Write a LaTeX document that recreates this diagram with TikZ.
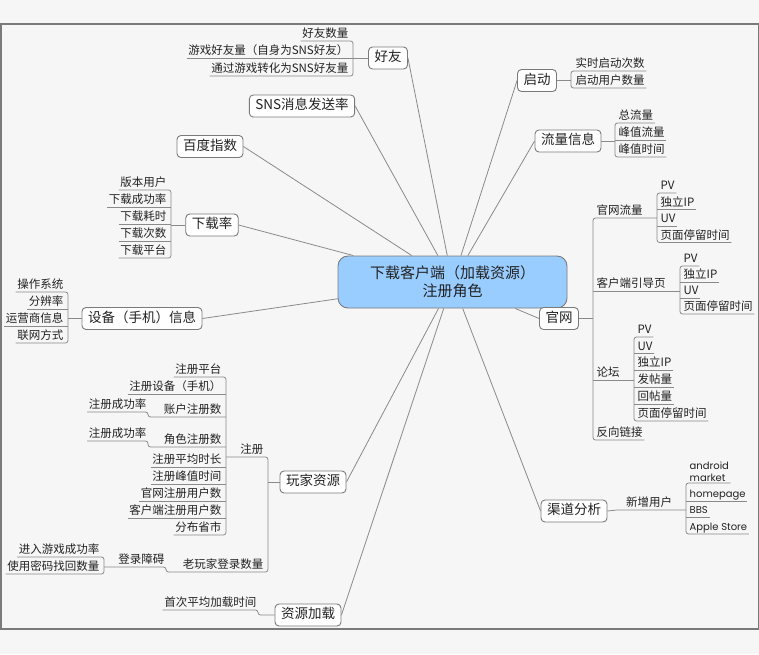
\documentclass[tikz,border=0pt]{standalone}
\usepackage{fontspec}
\setmainfont{Noto Sans CJK SC}
\newfontfamily\poppinsfont{Poppins}
\usetikzlibrary{calc}
\definecolor{bgc}{HTML}{F6F6F6}
\definecolor{lnc}{HTML}{8A8A8A}
\definecolor{frc}{HTML}{7A7A7A}
\definecolor{ctrfill}{HTML}{99CCFF}
\definecolor{txt}{HTML}{222222}
\tikzset{
  ln/.style={draw=lnc, line width=0.8pt},
  bk/.style={draw=lnc, line width=0.8pt, rounded corners=2.5pt},
  topic/.style={draw=frc, fill=white, rounded corners=4pt, line width=0.9pt,
     font=\fontsize{13.5}{16}\selectfont, text=txt, inner xsep=6pt, inner ysep=4.5pt,
     text height=10pt, text depth=3pt},
  leafL/.style={anchor=south east, inner xsep=1.5pt, inner ysep=1pt,
     font=\fontsize{11.5}{13}\selectfont, text=txt, text height=9pt, text depth=2pt},
  leafR/.style={leafL, anchor=south west},
  latinR/.style={leafR, font=\poppinsfont\fontsize{10}{12}\selectfont, text height=8pt},
  ctrbox/.style={draw=frc, fill=ctrfill, rounded corners=10pt, line width=0.9pt,
     minimum width=229pt, minimum height=52pt, align=center,
     font=\fontsize{15}{18}\selectfont, text=txt, inner sep=0pt}
}
\begin{document}
\begin{tikzpicture}[x=1pt,y=-1pt]
\useasboundingbox (0,0) rectangle (759,654);
\fill[bgc] (0,0) rectangle (759,654);
\draw[frc, line width=1.5pt] (0.75,24) rectangle (758.25,629);

\node[ctrbox] (ctr) at (452.5,282) {下载客户端（加载资源）\\注册角色};

% main topics
\node[topic] (hy) at (388,58) {好友};
\node[topic] (sns) at (302,106) {SNS消息发送率};
\node[topic] (bd) at (210,146.5) {百度指数};
\node[topic] (xzl) at (212,225) {下载率};
\node[topic] (sb) at (142,318.5) {设备（手机）信息};
\node[topic] (wjzy) at (313,482) {玩家资源};
\node[topic] (zyjz) at (308,615) {资源加载};
\node[topic] (qd) at (537,80.5) {启动};
\node[topic] (llxx) at (568,141) {流量信息};
\node[topic] (gw) at (559,318.5) {官网};
\node[topic] (qdfx) at (574,511) {渠道分析};

\foreach \t/\a in {hy/east, sns/east, bd/east, xzl/east, sb/east, wjzy/east, zyjz/east, qd/west, llxx/west, gw/west, qdfx/west}
  \draw[ln] (\t.\a) -- (ctr);

% 好友
\coordinate (bkhy) at (353,0);
\node[leafL] (hy1) at (350,41) {好友数量};
\node[leafL] (hy2) at (350,58) {游戏好友量（自身为SNS好友）};
\node[leafL] (hy3) at (350,76) {通过游戏转化为SNS好友量};
\draw[bk] (hy1.south west) -- (hy1.south west -| bkhy) -- (hy3.south west -| bkhy) -- (hy3.south west);
\draw[ln] (hy2.south west) -- (hy.west);

% 下载率
\coordinate (bkxz) at (171,0);
\node[leafL] (xz1) at (168,190) {版本用户};
\node[leafL] (xz2) at (168,207) {下载成功率};
\node[leafL] (xz3) at (168,224) {下载耗时};
\node[leafL] (xz4) at (168,241) {下载次数};
\node[leafL] (xz5) at (168,258) {下载平台};
\draw[bk] (xz1.south west) -- (xz1.south west -| bkxz) -- (xz5.south west -| bkxz) -- (xz5.south west);
\foreach \n in {xz2,xz3,xz4} \draw[ln] (\n.south west) -- (\n.south west -| bkxz);
\draw[ln] (xzl.west) -- (xzl.west -| bkxz);

% 设备
\coordinate (bksb) at (68,0);
\node[leafL] (sb1) at (65,292) {操作系统};
\node[leafL] (sb2) at (65,309) {分辨率};
\node[leafL] (sb3) at (65,326) {运营商信息};
\node[leafL] (sb4) at (65,343) {联网方式};
\draw[bk] (sb1.south west) -- (sb1.south west -| bksb) -- (sb4.south west -| bksb) -- (sb4.south west);
\foreach \n in {sb2,sb3} \draw[ln] (\n.south west) -- (\n.south west -| bksb);
\draw[ln] (sb.west) -- (sb.west -| bksb);

% 启动
\coordinate (bkqd) at (571,0);
\node[leafR] (qd1) at (574,71) {实时启动次数};
\node[leafR] (qd2) at (574,88) {启动用户数量};
\draw[bk] (qd1.south east) -- (qd1.south east -| bkqd) -- (qd2.south east -| bkqd) -- (qd2.south east);
\draw[ln] (qd.east) -- (qd.east -| bkqd);

% 流量信息
\coordinate (bkll) at (615,0);
\node[leafR] (ll1) at (617,123) {总流量};
\node[leafR] (ll2) at (617,140) {峰值流量};
\node[leafR] (ll3) at (617,157) {峰值时间};
\draw[bk] (ll1.south east) -- (ll1.south east -| bkll) -- (ll3.south east -| bkll) -- (ll3.south east);
\draw[ln] (ll2.south east) -- (ll2.south east -| bkll);
\draw[ln] (llxx.east) -- (llxx.east -| bkll);

% 官网
\coordinate (bkgw) at (593,0);
\coordinate (bkgw1) at (657,0);
\coordinate (bkgw2) at (680,0);
\coordinate (bkgw3) at (634,0);
\node[leafR] (gw1) at (595,218) {官网流量};
\node[leafR] (gw2) at (595,291) {客户端引导页};
\node[leafR] (gw3) at (595,380) {论坛};
\node[leafR] (gw4) at (595,440) {反向链接};
\draw[bk] (gw1.south west -| bkgw1) -- (gw1.south west -| bkgw) -- (gw4.south west -| bkgw) -- (gw4.south east);
\draw[ln] (gw2.south west -| bkgw) -- (gw2.south west -| bkgw2);
\draw[ln] (gw3.south west -| bkgw) -- (gw3.south west -| bkgw3);
\draw[ln] (gw.east) -- (gw.east -| bkgw);

\node[leafR] (ga1) at (659,193) {PV};
\node[leafR] (ga2) at (659,209.5) {独立IP};
\node[leafR] (ga3) at (659,226) {UV};
\node[leafR] (ga4) at (659,242.5) {页面停留时间};
\draw[bk] (ga1.south east) -- (ga1.south east -| bkgw1) -- (ga4.south east -| bkgw1) -- (ga4.south east);
\foreach \n in {ga2,ga3} \draw[ln] (\n.south east) -- (\n.south east -| bkgw1);

\node[leafR] (gb1) at (682,266) {PV};
\node[leafR] (gb2) at (682,282) {独立IP};
\node[leafR] (gb3) at (682,298) {UV};
\node[leafR] (gb4) at (682,314) {页面停留时间};
\draw[bk] (gb1.south east) -- (gb1.south east -| bkgw2) -- (gb4.south east -| bkgw2) -- (gb4.south east);
\foreach \n in {gb2,gb3} \draw[ln] (\n.south east) -- (\n.south east -| bkgw2);

\node[leafR] (gc1) at (636,337) {PV};
\node[leafR] (gc2) at (636,353.5) {UV};
\node[leafR] (gc3) at (636,370) {独立IP};
\node[leafR] (gc4) at (636,387) {发帖量};
\node[leafR] (gc5) at (636,404) {回帖量};
\node[leafR] (gc6) at (636,421) {页面停留时间};
\draw[bk] (gc1.south east) -- (gc1.south east -| bkgw3) -- (gc6.south east -| bkgw3) -- (gc6.south east);
\foreach \n in {gc2,gc3,gc4,gc5} \draw[ln] (\n.south east) -- (\n.south east -| bkgw3);

% 渠道分析
\coordinate (bkqf) at (686,0);
\node[leafR, inner xsep=9pt] (xzyh) at (617,510) {新增用户};
\draw[ln] (qdfx.east) -- (xzyh.south west) -- (xzyh.south west -| bkqf);
\node[anchor=south west, inner xsep=1.5pt, inner ysep=1.5pt, align=left, text=txt,
      font=\poppinsfont\fontsize{10}{12}\selectfont] (qf1) at (688,483) {android\\market};
\node[latinR] (qf2) at (688,501) {homepage};
\node[latinR] (qf3) at (688,517) {BBS};
\node[latinR] (qf4) at (688,534) {Apple Store};
\draw[bk] (qf1.south east) -- (qf1.south east -| bkqf) -- (qf4.south east -| bkqf) -- (qf4.south east);
\foreach \n in {qf2,qf3} \draw[ln] (\n.south east) -- (\n.south east -| bkqf);

% 玩家资源
\coordinate (bkwj) at (268,0);
\coordinate (bkzc) at (226,0);
\coordinate (bkdl) at (104,0);
\node[leafL] (zc) at (265,457) {注册};
\node[leafL] (lw) at (265,572) {老玩家登录数量};
\node[leafL] (dl) at (166,567) {登录障碍};
\draw[bk] (zc.south west -| bkzc) -- (zc.south west -| bkwj) -- (lw.south west -| bkwj) -- (dl.south east |- lw.south west) -- (dl.south east) -- (dl.south west -| bkdl);
\draw[ln] (wjzy.west) -- (wjzy.west -| bkwj);
\node[leafL] (jr) at (101,557) {进入游戏成功率};
\node[leafL] (sy) at (101,574) {使用密码找回数量};
\draw[bk] (jr.south west) -- (jr.south west -| bkdl) -- (sy.south west -| bkdl) -- (sy.south west);

\node[leafL] (z1) at (223,377) {注册平台};
\node[leafL] (z2) at (223,394) {注册设备（手机）};
\node[leafL] (z3) at (223,417) {账户注册数};
\node[leafL] (z4) at (223,447) {角色注册数};
\node[leafL] (z5) at (223,467) {注册平均时长};
\node[leafL] (z6) at (223,484) {注册峰值时间};
\node[leafL] (z7) at (223,501) {官网注册用户数};
\node[leafL] (z8) at (223,518) {客户端注册用户数};
\node[leafL] (z9) at (223,535) {分布省市};
\node[leafL] (c1) at (148,412) {注册成功率};
\node[leafL] (c2) at (148,441) {注册成功率};
\draw[bk] (z1.south west) -- (z1.south west -| bkzc) -- (z9.south west -| bkzc) -- (z9.south west);
\foreach \n in {z2,z5,z6,z7,z8} \draw[ln] (\n.south west) -- (\n.south west -| bkzc);
\draw[bk] (z3.south east -| bkzc) -- (c1.south east |- z3.south east) -- (c1.south east) -- (c1.south west);
\draw[bk] (z4.south east -| bkzc) -- (c2.south east |- z4.south east) -- (c2.south east) -- (c2.south west);

% 资源加载
\node[leafL] (sc) at (258,610) {首次平均加载时间};
\draw[bk] (sc.south west) -- (sc.south east) -- (sc.south east |- zyjz.west) -- (zyjz.west);
\end{tikzpicture}
\end{document}
